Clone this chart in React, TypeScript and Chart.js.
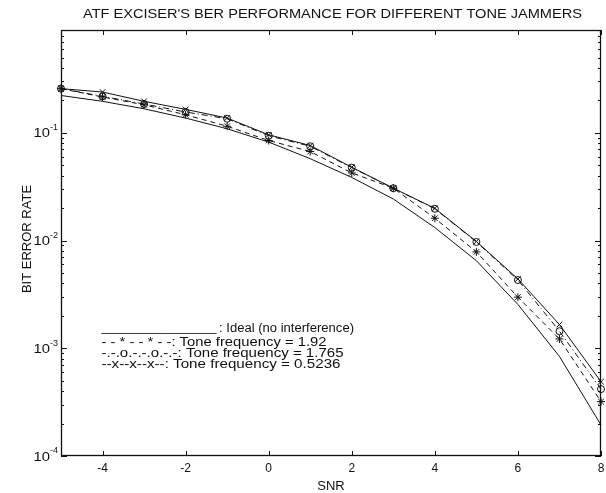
import { useEffect, useRef } from "react";
import { Chart, registerables } from "chart.js";

Chart.register(...registerables);

// ---- data ----
const snr = [-5, -4, -3, -2, -1, 0, 1, 2, 3, 4, 5, 6, 7, 8];
const ideal = [0.222, 0.196, 0.167, 0.137, 0.109, 0.082, 0.0575, 0.0385, 0.0243, 0.0132, 0.0065, 0.00255, 0.00084, 0.000194];
const tone192 = [0.257, 0.215, 0.182, 0.147, 0.115, 0.0848, 0.067, 0.0424, 0.0306, 0.0161, 0.00784, 0.00298, 0.00122, 0.00032];
const tone1765 = [0.257, 0.218, 0.185, 0.156, 0.135, 0.094, 0.075, 0.0475, 0.0306, 0.0197, 0.0097, 0.0043, 0.00144, 0.000418];
const tone05236 = [0.257, 0.239, 0.196, 0.165, 0.137, 0.0958, 0.0762, 0.0479, 0.0306, 0.0199, 0.0098, 0.0044, 0.00166, 0.00049];

const xTicks = [-4, -2, 0, 2, 4, 6, 8];
const yDecades = [-4, -3, -2, -1, 0];
const yLabelDecades = [-4, -3, -2, -1];

const titleText = "ATF EXCISER'S BER PERFORMANCE FOR DIFFERENT TONE JAMMERS";
const xTitle = "SNR";
const yTitle = "BIT ERROR RATE";
const legendUnderline = "_________________";
const legendIdeal = ": Ideal (no interference)";
const legendLines = [
  "- - * - - * - -: Tone frequency = 1.92",
  "-.-.o.-.-.o.-.-: Tone frequency = 1.765",
  "--x--x--x--: Tone frequency = 0.5236",
];
// horizontal extents of the text lines in the reference (px)
const legendLineWidths = [225, 242, 239];

const FONT = "'Liberation Sans', Arial, Helvetica, sans-serif";
const INK = "#111";

function fillStretched(ctx: CanvasRenderingContext2D, text: string, x: number, y: number, width: number) {
  const w = ctx.measureText(text).width;
  const s = width / w;
  ctx.save();
  ctx.translate(x, y);
  ctx.scale(s, 1);
  ctx.textAlign = "left";
  ctx.fillText(text, 0, 0);
  ctx.restore();
}

const annotate = {
  id: "matlabAxes",
  afterDraw(chart: any) {
    const ctx: CanvasRenderingContext2D = chart.ctx;
    const { left, right, top, bottom } = chart.chartArea;
    const xs = chart.scales.x;
    const ys = chart.scales.y;
    ctx.save();
    ctx.strokeStyle = INK;
    ctx.fillStyle = INK;
    ctx.lineWidth = 1.3;
    // box
    ctx.strokeRect(Math.round(left) + 0.5, Math.round(top) + 0.5, Math.round(right - left) - 1, Math.round(bottom - top) - 1);

    // x ticks
    ctx.lineWidth = 1;
    ctx.beginPath();
    for (const v of xTicks) {
      const px = Math.round(xs.getPixelForValue(v)) + 0.5;
      ctx.moveTo(px, bottom);
      ctx.lineTo(px, bottom - 5);
      ctx.moveTo(px, top);
      ctx.lineTo(px, top + 5);
    }
    // y ticks
    const [ymin, ymax] = [ys.min, ys.max];
    for (const d of yDecades) {
      for (let m = 1; m <= 9; m++) {
        const v = m * Math.pow(10, d);
        if (v < ymin * 0.999 || v > ymax * 1.001) continue;
        const py = Math.round(ys.getPixelForValue(v)) + 0.5;
        const len = m === 1 ? 6 : 3;
        ctx.moveTo(left, py);
        ctx.lineTo(left + len, py);
        ctx.moveTo(right, py);
        ctx.lineTo(right - len, py);
      }
    }
    ctx.stroke();

    // x tick labels
    ctx.font = `12px ${FONT}`;
    ctx.textAlign = "center";
    ctx.textBaseline = "middle";
    for (const v of xTicks) {
      const px = xs.getPixelForValue(v);
      ctx.fillText(String(v), px, bottom + 13);
    }

    // y tick labels 10^n
    for (const d of yLabelDecades) {
      const py = ys.getPixelForValue(Math.pow(10, d));
      const exp = String(d);
      ctx.textBaseline = "middle";
      ctx.font = `9px ${FONT}`;
      const ew = ctx.measureText(exp).width;
      const xEnd = left - 3;
      fillStretched(ctx, exp, xEnd - ew, py - 5, ew);
      ctx.font = `13px ${FONT}`;
      fillStretched(ctx, "10", xEnd - ew - 16.5, py + 1, 16.5);
    }

    // title
    ctx.font = `13.5px ${FONT}`;
    ctx.textBaseline = "middle";
    fillStretched(ctx, titleText, 83, 14, 499);

    // x title
    ctx.font = `13px ${FONT}`;
    ctx.textAlign = "center";
    ctx.fillText(xTitle, (left + right) / 2, 486);

    // y title
    ctx.save();
    ctx.translate(27, (top + bottom) / 2 - 4);
    ctx.rotate(-Math.PI / 2);
    ctx.fillText(yTitle, 0, 0);
    ctx.restore();

    // legend text
    ctx.font = `12px ${FONT}`;
    ctx.textBaseline = "alphabetic";
    fillStretched(ctx, legendUnderline, 101.5, 331, 115);
    fillStretched(ctx, legendIdeal, 219, 332, 135);
    legendLines.forEach((t, i) => {
      fillStretched(ctx, t, 101.5, 346 + i * 11, legendLineWidths[i]);
    });
    ctx.restore();
  },
};

export default function App() {
  const ref = useRef<HTMLCanvasElement | null>(null);
  useEffect(() => {
    document.body.style.margin = "0";
    const canvas = ref.current;
    if (!canvas) return;
    const pts = (arr: number[]) => snr.map((x, i) => ({ x, y: arr[i] }));
    const chart = new Chart(canvas, {
      type: "line",
      data: {
        datasets: [
          {
            label: "Ideal (no interference)",
            data: pts(ideal),
            borderColor: INK,
            borderWidth: 1,
            pointRadius: 0,
            tension: 0,
            clip: false,
          },
          {
            label: "Tone frequency = 1.92",
            data: pts(tone192),
            borderColor: INK,
            borderWidth: 1,
            borderDash: [5, 4],
            pointStyle: "star",
            pointRadius: 4,
            pointBorderColor: INK,
            pointBackgroundColor: "rgba(0,0,0,0)",
            pointBorderWidth: 1,
            tension: 0,
            clip: false,
          },
          {
            label: "Tone frequency = 1.765",
            data: pts(tone1765),
            borderColor: INK,
            borderWidth: 1,
            borderDash: [6, 3, 1, 3],
            pointStyle: "circle",
            pointRadius: 3.5,
            pointBorderColor: INK,
            pointBackgroundColor: "rgba(0,0,0,0)",
            pointBorderWidth: 1,
            tension: 0,
            clip: false,
          },
          {
            label: "Tone frequency = 0.5236",
            data: pts(tone05236),
            borderColor: INK,
            borderWidth: 1,
            pointStyle: "crossRot",
            pointRadius: 4,
            pointBorderColor: INK,
            pointBackgroundColor: "rgba(0,0,0,0)",
            pointBorderWidth: 1,
            tension: 0,
            clip: false,
          },
        ],
      },
      options: {
        responsive: false,
        animation: false,
        events: [],
        layout: { padding: { left: 61, right: 5, top: 30, bottom: 37 } },
        plugins: {
          legend: { display: false },
          tooltip: { enabled: false },
          title: { display: false },
        },
        scales: {
          x: { type: "linear", min: -5, max: 8, display: false },
          y: { type: "logarithmic", min: 1e-4, max: 0.9, display: false },
        },
      },
      plugins: [annotate],
    });
    return () => chart.destroy();
  }, []);
  return <canvas ref={ref} width={606} height={493} style={{ display: "block" }} />;
}
